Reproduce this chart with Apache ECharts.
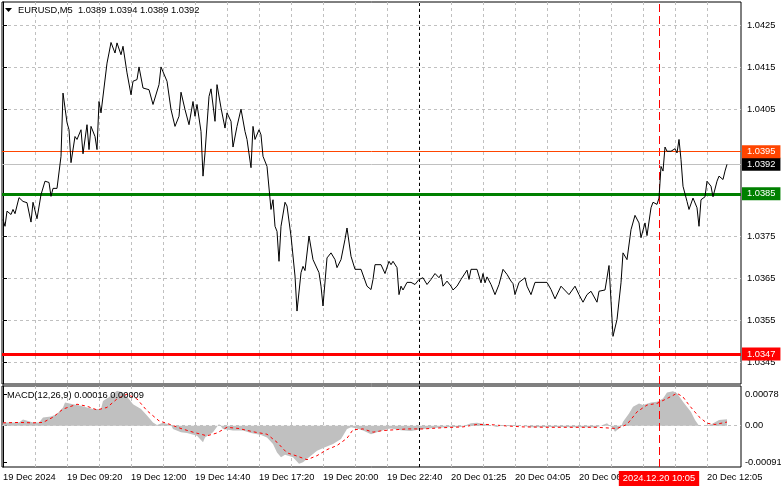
<!DOCTYPE html>
<html><head><meta charset="utf-8">
<script src="https://cdn.jsdelivr.net/npm/echarts@6/dist/echarts.min.js"></script>
<style>html,body{margin:0;padding:0;background:#fff}#c{width:781px;height:489px}</style>
</head><body><div id="c"></div>
<script>
const FONT = '"Liberation Sans",Arial,sans-serif';
const FS = 9.3;

const titleText = 'EURUSD,M5  1.0389 1.0394 1.0389 1.0392';
const macdText = 'MACD(12,26,9) 0.00016 0.00009';

// bar index (M5 bars from the left edge) and close price
const priceBars = [0,1,2,4,5,6,8,10,12,14,15,17,19,21,23,24,25,27,29,30,32,33,34,36,37,39,40,42,43,44,46,47,48,49,52,53,54,56,57,59,60,62,64,65,67,68,70,73,75,78,79,82,84,86,88,89,91,93,95,96,97,99,100,101,103,104,106,107,109,111,112,114,115,117,119,121,122,124,125,126,128,129,130,132,134,135,136,137,138,139,141,142,144,146,147,149,150,151,153,155,158,159,160,162,164,166,167,169,171,172,174,176,179,180,182,184,185,186,189,191,193,194,195,197,198,199,200,202,204,206,208,210,212,214,216,218,219,220,222,224,225,227,229,232,233,234,237,239,240,241,242,244,246,248,250,252,254,255,256,258,259,261,262,264,266,272,274,276,279,280,283,284,286,288,290,292,294,295,297,298,301,303,305,307,309,310,312,314,316,318,319,321,322,324,325,327,328,329,330,331,332,334,335,336,337,338,339,340,342,343,345,347,348,349,351,352,354,355,357,358,360,361,362];
const priceValues = [1.03789,1.03773,1.03809,1.03801,1.03813,1.03803,1.03841,1.03832,1.03829,1.03783,1.03830,1.03791,1.03848,1.03880,1.03877,1.03844,1.03863,1.03863,1.03939,1.04089,1.04019,1.04002,1.03924,1.03986,1.03979,1.04002,1.03945,1.04014,1.03955,1.04010,1.03986,1.03955,1.04069,1.04042,1.04160,1.04184,1.04209,1.04184,1.04208,1.04180,1.04200,1.04137,1.04085,1.04117,1.04121,1.04151,1.04101,1.04097,1.04062,1.04109,1.04151,1.04117,1.04050,1.04010,1.04034,1.04091,1.04050,1.04014,1.04069,1.04034,1.04062,1.03998,1.03892,1.03947,1.04081,1.04099,1.04022,1.04109,1.04054,1.04006,1.04042,1.04022,1.03961,1.04010,1.04051,1.03998,1.03979,1.03912,1.04010,1.03979,1.04002,1.03990,1.03939,1.03915,1.03813,1.03836,1.03773,1.03761,1.03690,1.03773,1.03830,1.03821,1.03750,1.03655,1.03572,1.03663,1.03678,1.03668,1.03750,1.03694,1.03663,1.03631,1.03584,1.03698,1.03710,1.03694,1.03675,1.03694,1.03742,1.03769,1.03702,1.03671,1.03671,1.03669,1.03631,1.03623,1.03647,1.03682,1.03682,1.03661,1.03690,1.03682,1.03690,1.03675,1.03611,1.03631,1.03622,1.03640,1.03640,1.03635,1.03647,1.03651,1.03635,1.03647,1.03661,1.03651,1.03659,1.03631,1.03643,1.03631,1.03622,1.03631,1.03647,1.03669,1.03647,1.03671,1.03671,1.03639,1.03661,1.03639,1.03653,1.03635,1.03611,1.03635,1.03671,1.03659,1.03643,1.03637,1.03611,1.03640,1.03639,1.03651,1.03631,1.03611,1.03640,1.03640,1.03623,1.03601,1.03631,1.03631,1.03611,1.03611,1.03631,1.03611,1.03593,1.03611,1.03619,1.03619,1.03593,1.03619,1.03622,1.03680,1.03512,1.03552,1.03639,1.03710,1.03694,1.03765,1.03799,1.03781,1.03746,1.03781,1.03751,1.03817,1.03830,1.03825,1.03840,1.03915,1.03904,1.03961,1.03951,1.03951,1.03947,1.03957,1.03947,1.03979,1.03931,1.03868,1.03832,1.03813,1.03840,1.03817,1.03773,1.03836,1.03843,1.03880,1.03868,1.03843,1.03880,1.03892,1.03884,1.03904,1.03920];

const macdBars = [0,8,10,15,18,20,24,27,30,31,32,35,39,42,45,49,50,54,57,60,63,65,69,72,75,77,80,84,85,89,92,97,100,101,105,108,110,115,120,124,129,132,135,137,139,141,145,148,150,153,157,161,165,169,172,174,177,180,184,187,192,194,199,204,210,217,224,229,234,237,242,247,250,257,264,272,280,287,297,302,303,305,306,309,310,313,315,318,320,324,327,330,332,335,337,340,344,346,348,350,354,358,362];
const macdValues = [0.00008,0.00008,0.00015,0.00008,0.00008,0.00020,0.00023,0.00029,0.00045,0.00057,0.00059,0.00053,0.00049,0.00045,0.00041,0.00041,0.00061,0.00074,0.00086,0.00082,0.00066,0.00053,0.00041,0.00025,0.00008,0.00002,0.00007,0.00002,-0.00008,-0.00016,-0.00018,-0.00025,-0.00041,-0.00029,-0.00016,0.00004,-0.00008,-0.00012,-0.00012,-0.00018,-0.00023,-0.00029,-0.00045,-0.00066,-0.00078,-0.00072,-0.00078,-0.00094,-0.00090,-0.00078,-0.00062,-0.00053,-0.00045,-0.00033,-0.00008,-0.00004,-0.00007,-0.00012,-0.00021,-0.00016,-0.00008,-0.00007,-0.00011,-0.00013,-0.00008,-0.00005,-0.00003,-0.00003,0.00006,0.00007,0.00003,-0.00003,0.00002,0.00002,-0.00004,-0.00003,-0.00003,-0.00004,-0.00004,0.00006,0.00010,-0.00007,-0.00015,-0.00003,0.00010,0.00030,0.00047,0.00055,0.00051,0.00057,0.00059,0.00067,0.00082,0.00085,0.00080,0.00059,0.00034,0.00014,0.00000,0.00000,0.00003,0.00014,0.00016];

const signalBars = [0,8,15,20,25,30,37,42,47,52,57,62,67,72,78,83,89,95,102,107,112,118,125,132,137,142,147,152,157,162,167,172,175,180,185,190,202,210,220,230,237,243,250,260,273,287,297,307,312,317,322,327,332,337,340,343,348,352,356,360,362];
const signalValues = [0.00007,0.00008,0.00007,0.00008,0.00021,0.00041,0.00053,0.00048,0.00039,0.00045,0.00066,0.00078,0.00066,0.00037,0.00012,0.00004,-0.00007,-0.00016,-0.00025,-0.00018,-0.00004,-0.00007,-0.00015,-0.00021,-0.00041,-0.00067,-0.00075,-0.00084,-0.00074,-0.00059,-0.00049,-0.00031,-0.00010,-0.00008,-0.00016,-0.00012,-0.00008,-0.00008,-0.00005,-0.00003,0.00003,0.00003,0.00000,-0.00003,-0.00004,-0.00004,-0.00004,-0.00007,0.00003,0.00034,0.00051,0.00055,0.00067,0.00080,0.00071,0.00051,0.00022,0.00006,0.00003,0.00007,0.00009];

const timeLabelBars = [0,32,64,96,128,160,192,224,256,288,352];
const timeLabels = ['19 Dec 2024','19 Dec 09:20','19 Dec 12:00','19 Dec 14:40','19 Dec 17:20','19 Dec 20:00','19 Dec 22:40','20 Dec 01:25','20 Dec 04:05','20 Dec 06:45','20 Dec 12:05'];
const gridBars = [16,32,48,64,80,96,112,128,144,160,176,192,208,224,240,256,272,288,304,320,336,352];
const priceTicks = [1.0345,1.0355,1.0365,1.0375,1.0385,1.0395,1.0405,1.0415,1.0425];
const macdTicks = [-0.00091,0,0.00078];

const resistanceLevel = 1.0395;
const bidLevel = 1.0392;
const supportLevel = 1.0385;
const lowLevel = 1.0347;
const daySeparatorBar = 208;
const crosshairBar = 328;
const crosshairLabel = '2024.12.20 10:05';

const zip = (a, b) => a.map((v, i) => [v, b[i]]);

function levelLine(value, color, width, boxColor) {
  return {
    yAxis: value,
    lineStyle: { color: color, width: width, type: 'solid' },
    label: {
      show: true, position: 'end', distance: 1,
      formatter: value.toFixed(4),
      color: '#fff', backgroundColor: boxColor,
      fontFamily: FONT, fontSize: FS, lineHeight: 12,
      padding: [1, 5, 0, 5]
    }
  };
}

function xAxisDef(gridIndex, showLabels) {
  return {
    type: 'value', gridIndex: gridIndex, min: -0.5, max: 369,
    axisLine: { show: false },
    axisTick: { show: false, customValues: gridBars },
    splitLine: { show: true, lineStyle: { color: '#c0c0c0', type: [3, 3], width: 1 } },
    axisLabel: {
      show: showLabels, customValues: timeLabelBars,
      formatter: v => { const i = timeLabelBars.indexOf(v); return i >= 0 ? timeLabels[i] : ''; },
      align: 'left', color: '#000', fontFamily: FONT, fontSize: FS, margin: 6
    }
  };
}

const chart = echarts.init(document.getElementById('c'), null, { renderer: 'canvas' });
chart.setOption({
  animation: false,
  backgroundColor: '#fff',
  grid: [
    { left: 2, right: 40, top: 2, height: 382, show: true, borderColor: '#000', borderWidth: 1, backgroundColor: 'transparent', outerBoundsMode: 'none', containLabel: false },
    { left: 2, right: 40, top: 386, height: 81, show: true, borderColor: '#000', borderWidth: 1, backgroundColor: 'transparent', outerBoundsMode: 'none', containLabel: false }
  ],
  xAxis: [xAxisDef(0, false), xAxisDef(1, true)],
  yAxis: [
    {
      type: 'value', gridIndex: 0, position: 'right', min: 1.03399, max: 1.04305,
      axisLine: { show: true, lineStyle: { color: '#000' } },
      axisTick: { show: true, length: 4, customValues: priceTicks, lineStyle: { color: '#000' } },
      axisLabel: { customValues: priceTicks, formatter: v => v.toFixed(4), color: '#000', fontFamily: FONT, fontSize: FS, margin: 6 },
      splitLine: { show: true, lineStyle: { color: '#c0c0c0', type: [3, 3], width: 1 } }
    },
    {
      type: 'value', gridIndex: 1, position: 'right', min: -0.00102, max: 0.00098,
      axisLine: { show: true, lineStyle: { color: '#000' } },
      axisTick: { show: true, length: 4, customValues: macdTicks, lineStyle: { color: '#000' } },
      axisLabel: { customValues: macdTicks, formatter: v => v === 0 ? '0.00' : v.toFixed(5), color: '#000', fontFamily: FONT, fontSize: FS, margin: 4 },
      splitLine: { show: false }
    }
  ],
  series: [
    {
      type: 'line', xAxisIndex: 0, yAxisIndex: 0,
      data: zip(priceBars, priceValues),
      symbol: 'none', lineStyle: { color: '#000', width: 1 }, z: 5,
      markLine: {
        silent: true, symbol: 'none', animation: false, precision: 6,
        data: [
          { xAxis: daySeparatorBar, lineStyle: { color: '#000', type: [3, 3], width: 1 }, label: { show: false } },
          { xAxis: crosshairBar, lineStyle: { color: '#FF0000', type: [8, 4], width: 1 }, label: { show: false } },
          levelLine(bidLevel, '#C0C0C0', 1, '#000'),
          levelLine(resistanceLevel, '#FF4500', 1, '#FF4500'),
          levelLine(supportLevel, '#008000', 3, '#008000'),
          levelLine(lowLevel, '#FF0000', 3, '#FF0000')
        ]
      }
    },
    {
      type: 'line', xAxisIndex: 1, yAxisIndex: 1,
      data: zip(macdBars, macdValues),
      symbol: 'none', lineStyle: { width: 0, color: '#c0c0c0' },
      areaStyle: { color: '#c0c0c0', opacity: 1 }, z: 2,
      markLine: {
        silent: true, symbol: 'none', animation: false, precision: 6,
        data: [
          { yAxis: 0, lineStyle: { color: '#c0c0c0', type: [3, 3], width: 1 }, label: { show: false } },
          { xAxis: daySeparatorBar, lineStyle: { color: '#000', type: [3, 3], width: 1 }, label: { show: false } },
          { xAxis: crosshairBar, lineStyle: { color: '#FF0000', type: [8, 4], width: 1 },
            label: { show: true, position: 'start', distance: 4, formatter: crosshairLabel, color: '#fff', backgroundColor: '#FF0000',
                     fontFamily: FONT, fontSize: FS, lineHeight: 13, padding: [1, 4, 1, 4] } }
        ]
      }
    },
    {
      type: 'line', xAxisIndex: 1, yAxisIndex: 1,
      data: zip(signalBars, signalValues),
      symbol: 'none', lineStyle: { color: '#FF0000', width: 1, type: [3, 3] }, z: 4
    }
  ],
  graphic: [
    { type: 'polygon', z: 100, shape: { points: [[5, 8], [12, 8], [8.5, 12]] }, style: { fill: '#000' } },
    { type: 'text', z: 100, x: 18, y: 10, style: { text: titleText, fill: '#000', font: FS + 'px ' + FONT, verticalAlign: 'middle' } },
    { type: 'text', z: 100, x: 7, y: 395, style: { text: macdText, fill: '#000', font: FS + 'px ' + FONT, verticalAlign: 'middle' } }
  ]
});
</script>
</body></html>
